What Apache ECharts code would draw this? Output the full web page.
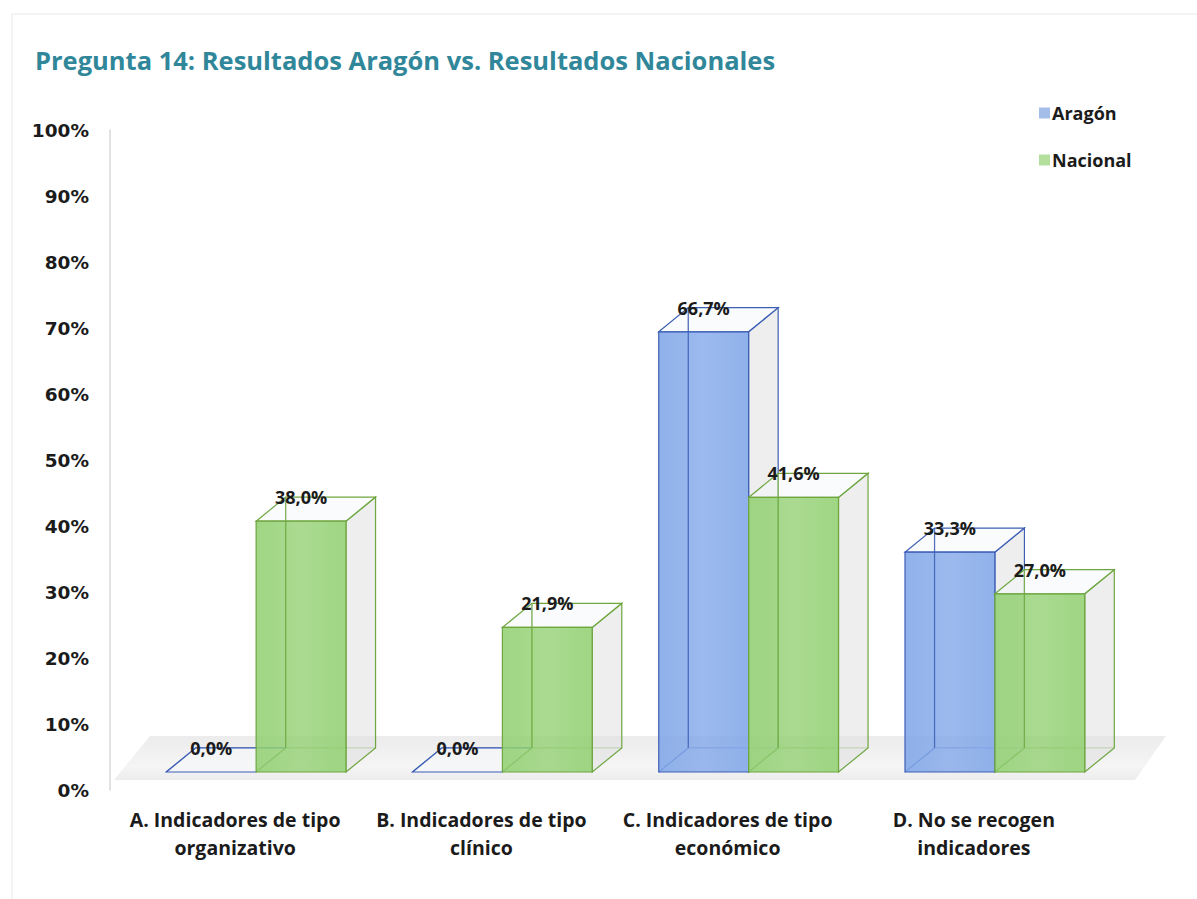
<!DOCTYPE html>
<html>
<head>
<meta charset="utf-8">
<title>Pregunta 14</title>
<script src="https://cdn.jsdelivr.net/npm/echarts@6/dist/echarts.min.js"></script>
<style>
  html, body { margin: 0; padding: 0; background: #fff; }
  #chart { width: 1197px; height: 899px; }
</style>
</head>
<body>
<div id="chart"></div>
<script>
// datos de la pregunta 14
const categorias = [
  'A. Indicadores de tipo\norganizativo',
  'B. Indicadores de tipo\nclínico',
  'C. Indicadores de tipo\neconómico',
  'D. No se recogen\nindicadores'
]
const aragon = [0.0, 0.0, 66.7, 33.3]
const nacional = [38.0, 21.9, 41.6, 27.0]
const ticksY = [0, 10, 20, 30, 40, 50, 60, 70, 80, 90, 100]

const FONT = '"Open Sans", "Noto Sans", sans-serif'

// estilo de cada serie (cajas pseudo 3D)
const estilos = [
  { front: 'rgba(128,166,232,0.88)', edge: '#3E5FB5', legend: '#A4BDE9' },
  { front: 'rgba(146,208,114,0.88)', edge: '#6FA640', legend: '#B3DE9C' }
]

function fmt(v) {
  return v.toFixed(1).replace('.', ',') + '%'
}

// dibuja una caja con cara frontal, lateral y superior
function cajaRender(lado) {
  return function (params, api) {
    const idx = api.value(0)
    const v = api.value(1)
    const base = api.coord([idx, 0])
    const cima = api.coord([idx, v])
    const band = api.size([1, 0])[0]
    const w = band * 0.365
    const x0 = lado === 0 ? base[0] - w : base[0]
    const x1 = x0 + w
    const yb = base[1]
    const yt = cima[1]
    const dx = band * 0.12
    const dy = -band * 0.098
    const st = estilos[lado]
    const children = []

    // aristas traseras (visibles por la transparencia)
    children.push({
      type: 'polyline',
      shape: { points: [[x0, yb], [x0 + dx, yb + dy], [x0 + dx, yt + dy]] },
      style: { stroke: st.edge, lineWidth: 1.2, fill: null }
    })
    children.push({
      type: 'line',
      shape: { x1: x0 + dx, y1: yb + dy, x2: x1 + dx, y2: yb + dy },
      style: { stroke: st.edge, lineWidth: 1, opacity: 0.7 }
    })
    // cara lateral
    if (yb - yt > 0.5) {
      children.push({
        type: 'polygon',
        shape: { points: [[x1, yt], [x1 + dx, yt + dy], [x1 + dx, yb + dy], [x1, yb]] },
        style: { fill: 'rgba(222,224,222,0.55)', stroke: st.edge, lineWidth: 1.2 }
      })
    }
    // cara superior
    children.push({
      type: 'polygon',
      shape: { points: [[x0, yt], [x0 + dx, yt + dy], [x1 + dx, yt + dy], [x1, yt]] },
      style: { fill: 'rgba(244,247,252,0.55)', stroke: st.edge, lineWidth: 1.2 }
    })
    // cara frontal
    if (yb - yt > 0.5) {
      children.push({
        type: 'rect',
        shape: { x: x0, y: yt, width: w, height: yb - yt },
        style: {
          fill: {
            type: 'linear', x: 0, y: 0, x2: 1, y2: 0,
            colorStops: [
              { offset: 0, color: st.front },
              { offset: 0.5, color: st.front.replace('0.88', '0.78') },
              { offset: 1, color: st.front }
            ]
          },
          stroke: st.edge,
          lineWidth: 1.2
        }
      })
      // arista trasera izquierda vista a traves de la cara frontal
      children.push({
        type: 'line',
        shape: { x1: x0 + dx, y1: yt + dy, x2: x0 + dx, y2: yb + dy },
        style: { stroke: st.edge, lineWidth: 1.2, opacity: 0.8 }
      })
    }
    // etiqueta de valor
    children.push({
      type: 'text',
      style: {
        text: fmt(v),
        x: (x0 + x1) / 2,
        y: yt + dy,
        align: 'center',
        verticalAlign: 'middle',
        fill: '#1b1b1b',
        font: 'bold 18px ' + FONT
      }
    })
    return { type: 'group', children: children }
  }
}

const chart = echarts.init(document.getElementById('chart'), null, { renderer: 'svg' })

chart.setOption({
  backgroundColor: '#fff',
  animation: false,
  title: {
    text: 'Pregunta 14: Resultados Aragón vs. Resultados Nacionales',
    left: 30,
    top: 42,
    textStyle: { color: '#31879A', fontFamily: FONT, fontWeight: 'bold', fontSize: 25.5 }
  },
  legend: {
    orient: 'vertical',
    left: 1034,
    top: 99,
    itemGap: 29,
    itemWidth: 11,
    itemHeight: 11,
    icon: 'rect',
    textStyle: { fontFamily: FONT, fontWeight: 'bold', fontSize: 18, color: '#1b1b1b', padding: [0, 0, 0, -3] },
    data: ['Aragón', 'Nacional']
  },
  graphic: [
    // borde del area del grafico
    { type: 'polyline', shape: { points: [[12, 899], [12, 14], [1197, 14]] }, style: { stroke: '#e8e8e8', lineWidth: 1, fill: null } },
    // suelo
    {
      type: 'polygon',
      z: -1,
      shape: { points: [[114, 780], [1135, 780], [1166, 736], [150, 736]] },
      style: {
        fill: {
          type: 'linear', x: 0, y: 0, x2: 0, y2: 1,
          colorStops: [
            { offset: 0, color: '#ececec' },
            { offset: 0.7, color: '#f5f5f5' },
            { offset: 1, color: '#ececec' }
          ]
        }
      }
    }
  ],
  grid: [
    { left: 133, right: 79, top: 112, bottom: 127 },
    { left: 112, right: 100, top: 130, bottom: 109 }
  ],
  xAxis: [
    {
      gridIndex: 0, type: 'category', data: categorias,
      axisLine: { show: false }, axisTick: { show: false }, axisLabel: { show: false }
    },
    {
      gridIndex: 1, type: 'category', data: categorias,
      axisLine: { show: false }, axisTick: { show: false },
      axisLabel: {
        margin: 15, fontFamily: FONT, fontWeight: 'bold', fontSize: 19.5,
        lineHeight: 28, color: '#1b1b1b', interval: 0
      }
    }
  ],
  yAxis: [
    {
      gridIndex: 0, type: 'value', min: 0, max: 100, interval: 10,
      show: false
    },
    {
      gridIndex: 1, type: 'value', min: ticksY[0], max: ticksY[ticksY.length - 1], interval: 10,
      offset: 2,
      axisLine: { show: true, lineStyle: { color: '#d9d9d9', width: 1.5 } },
      axisTick: { show: false },
      splitLine: { show: false },
      axisLabel: {
        margin: 21,
        formatter: function (v) { return v + '%' },
        fontFamily: '"DejaVu Sans", sans-serif', fontWeight: 'bold', fontSize: 18.5, color: '#1b1b1b'
      }
    }
  ],
  series: [
    {
      name: 'Aragón',
      type: 'custom',
      xAxisIndex: 0, yAxisIndex: 0,
      itemStyle: { color: estilos[0].legend },
      renderItem: cajaRender(0),
      data: aragon.map(function (v, i) { return [i, v] })
    },
    {
      name: 'Nacional',
      type: 'custom',
      xAxisIndex: 0, yAxisIndex: 0,
      itemStyle: { color: estilos[1].legend },
      renderItem: cajaRender(1),
      data: nacional.map(function (v, i) { return [i, v] })
    }
  ]
})
</script>
</body>
</html>
